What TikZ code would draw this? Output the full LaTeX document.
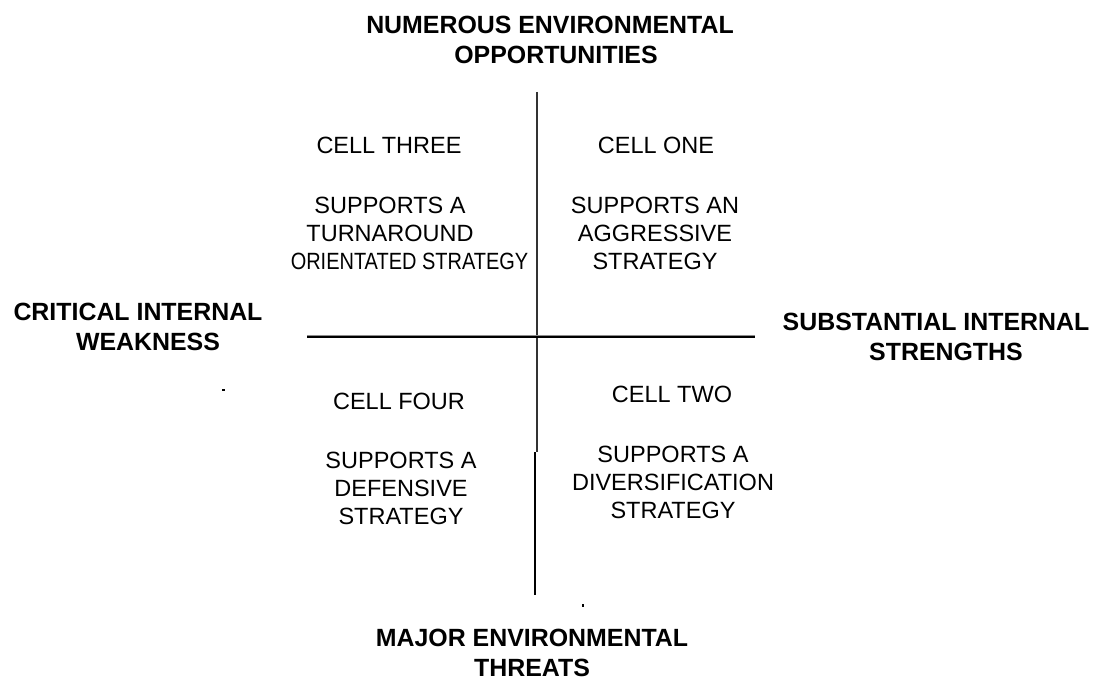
\documentclass[tikz,border=0pt]{standalone}
\usepackage{fontspec}
\usepackage{graphicx}
\setmainfont{Liberation Sans}
\begin{document}
\begin{tikzpicture}[x=1pt,y=-1pt,
  axislabel/.style={inner sep=0pt,anchor=base,align=center,font=\fontsize{24.9}{30}\selectfont\bfseries},
  celltext/.style={inner sep=0pt,anchor=base,align=center,font=\fontsize{23.5}{28}\selectfont},
  axisline/.style={line width=2pt}]
\useasboundingbox (0,0) rectangle (1097,684);
% axis labels (anchor = baseline of the last line)
\node[axislabel] (top) at (550,64) {NUMEROUS ENVIRONMENTAL\\\hspace*{12pt}OPPORTUNITIES};
\node[axislabel] (left) at (138,351) {CRITICAL INTERNAL\\\hspace*{20pt}WEAKNESS};
\node[axislabel] (right) at (936,360) {SUBSTANTIAL INTERNAL\\\hspace*{20pt}STRENGTHS};
\node[axislabel] (bottom) at (532,676) {MAJOR ENVIRONMENTAL\\THREATS};
% cells
\node[celltext] (c3title) at (389,153.4) {CELL THREE};
\node[celltext] (c3text) at (390,270) {SUPPORTS A\\TURNAROUND\\\hspace*{39pt}\scalebox{0.85}[1]{ORIENTATED STRATEGY}};
\node[celltext] (c1title) at (656,153.4) {CELL ONE};
\node[celltext] (c1text) at (655,270) {SUPPORTS AN\\AGGRESSIVE\\STRATEGY};
\node[celltext] (c4title) at (399,409) {CELL FOUR};
\node[celltext] (c4text) at (401,524.4) {SUPPORTS A\\DEFENSIVE\\STRATEGY};
\node[celltext] (c2title) at (672,402.5) {CELL TWO};
\node[celltext] (c2text) at (673,518) {SUPPORTS A\\DIVERSIFICATION\\STRATEGY};
% axes
\coordinate (vtop) at (536.5,92);
\coordinate (vmid) at (536.5,452);
\coordinate (vmid2) at (535,452);
\coordinate (vbot) at (535,595);
\coordinate (hleft) at (307,337.5);
\coordinate (hright) at (755,337.5);
\draw[axisline,black!80] (vtop) -- (vmid);
\draw[axisline,line width=2.4pt] (vmid2) -- (vbot);
\draw[axisline,black!45] ([yshift=1.2pt]hleft) -- ([yshift=1.2pt]hright);
\draw[axisline] (hleft) -- (hright);
% stray marks
\fill (221.5,389) rectangle (224.5,391);
\fill (582,603.5) rectangle (584,606.5);
\end{tikzpicture}
\end{document}
